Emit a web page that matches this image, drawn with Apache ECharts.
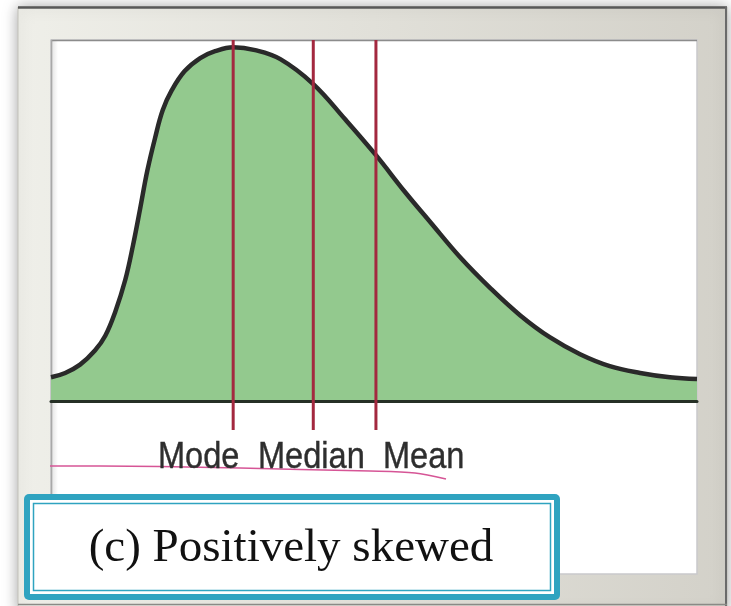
<!DOCTYPE html>
<html>
<head>
<meta charset="utf-8">
<script src="https://cdn.jsdelivr.net/npm/echarts@6/dist/echarts.min.js"></script>
<style>
  html, body { margin: 0; padding: 0; background: #ffffff; }
  #chart { width: 731px; height: 606px; }
</style>
</head>
<body>
<div id="chart"></div>
<script>
// Skewed density curve (x in arbitrary units 0–10, height in % of panel)
const curveX = [0, 0.22, 0.45, 0.68, 0.84, 0.99, 1.15, 1.27, 1.38, 1.49, 1.61, 1.73, 1.87, 2.07, 2.31, 2.54,
                2.82, 3.16, 3.55, 4.06, 4.55, 5.03, 5.48, 5.87, 6.33, 6.80, 7.26, 7.72, 8.19, 8.65, 9.12, 9.58, 10.0];
const curveY = [6.6, 7.8, 10.1, 14.0, 18.1, 24.5, 33.6, 43.2, 53.3, 63.7, 72.8, 80.6, 86.1, 91.4, 95.0, 96.9,
                98.0, 97.2, 94.7, 87.8, 78.1, 68.1, 57.9, 49.6, 39.9, 31.3, 23.8, 17.7, 13.0, 9.7, 7.8, 6.6, 6.1];

// Measures of central tendency
const measureNames = ['Mode', 'Median', 'Mean'];
const measureX = [2.82, 4.06, 5.03];

const captionText = '(c) Positively skewed';

const curveData = curveX.map((x, i) => [x, curveY[i]]);

const chart = echarts.init(document.getElementById('chart'), null, { renderer: 'canvas' });

const measureSeries = measureX.map((x, i) => ({
  name: measureNames[i],
  type: 'line',
  data: [[x, -8], [x, 100]],
  symbol: 'none',
  z: 5,
  lineStyle: { color: '#a3283f', width: 3 },
  silent: true,
  animation: false
}));

// Word positions for the measure labels along the baseline
const wordLeft = [158, 258, 383];

const labelTexts = measureNames.map((name, i) => ({
  type: 'text',
  x: wordLeft[i],
  y: 458,
  scaleX: 0.88,
  z: 20,
  style: {
    text: name,
    font: '37px "Liberation Sans", Arial, sans-serif',
    fill: '#2e2e2e',
    stroke: '#2e2e2e',
    lineWidth: 0.4,
    align: 'left',
    verticalAlign: 'middle'
  }
}));

chart.setOption({
  animation: false,
  grid: { left: 51, right: 34, top: 40, bottom: 176, containLabel: false },
  xAxis: {
    type: 'value', min: 0, max: 10, z: 4,
    axisLine: { onZero: true, lineStyle: { color: '#263026', width: 3 } },
    axisTick: { show: false }, axisLabel: { show: false }, splitLine: { show: false }
  },
  yAxis: {
    type: 'value', min: -8, max: 100,
    axisLine: { show: false }, axisTick: { show: false },
    axisLabel: { show: false }, splitLine: { show: false }
  },
  series: [
    {
      name: 'density',
      type: 'line',
      data: curveData,
      smooth: 0.4,
      symbol: 'none',
      z: 3,
      lineStyle: { color: '#2a2a2a', width: 4.5 },
      areaStyle: { color: '#93c98e', opacity: 1 },
      silent: true
    }
  ].concat(measureSeries),
  graphic: [
    // outer mat frame
    {
      type: 'rect', z: -5,
      shape: { x: 18, y: 7, width: 709, height: 605 },
      style: {
        fill: new echarts.graphic.LinearGradient(0, 0, 1, 0, [
          { offset: 0, color: '#efefe9' },
          { offset: 1, color: '#d3d1c9' }
        ]),
        stroke: '#c2c1b9', lineWidth: 1,
        shadowBlur: 14, shadowColor: 'rgba(0,0,0,0.35)'
      }
    },
    { type: 'line', z: -4, shape: { x1: 18, y1: 7.5, x2: 727, y2: 7.5 }, style: { stroke: '#585858', lineWidth: 2.5 } },
    { type: 'line', z: -4, shape: { x1: 726, y1: 7, x2: 726, y2: 606 }, style: { stroke: '#6a6a6a', lineWidth: 2 } },
    { type: 'line', z: -4, shape: { x1: 18, y1: 604.5, x2: 727, y2: 604.5 }, style: { stroke: '#8a8a86', lineWidth: 1.5 } },
    // inner white panel
    {
      type: 'rect', z: -3,
      shape: { x: 51, y: 40, width: 646, height: 534 },
      style: { fill: '#ffffff', stroke: '#c9c9cc', lineWidth: 1.5 }
    },
    { type: 'line', z: -2, shape: { x1: 51, y1: 40.5, x2: 697, y2: 40.5 }, style: { stroke: '#8c8c8c', lineWidth: 1.5 } },
    { type: 'line', z: -2, shape: { x1: 51.5, y1: 40, x2: 51.5, y2: 574 }, style: { stroke: '#a8a8a8', lineWidth: 1.5 } },
    {
      type: 'rect', z: -2,
      shape: { x: 52, y: 41, width: 6, height: 532 },
      style: {
        fill: new echarts.graphic.LinearGradient(0, 0, 1, 0, [
          { offset: 0, color: 'rgba(0,0,0,0.10)' },
          { offset: 1, color: 'rgba(0,0,0,0)' }
        ])
      }
    },
    // hand-drawn underline
    {
      type: 'polyline', z: 15,
      shape: {
        points: [[50, 466], [100, 466], [160, 466.5], [240, 468], [300, 469.5], [370, 471], [415, 473], [446, 479]],
        smooth: 0.3
      },
      style: { stroke: '#d65596', lineWidth: 1.6, fill: null }
    }
  ].concat(labelTexts).concat([
    // caption box
    {
      type: 'rect', z: 20,
      shape: { x: 24, y: 494, width: 536, height: 106, r: 5 },
      style: { fill: '#2fa3c0' }
    },
    {
      type: 'rect', z: 21,
      shape: { x: 30, y: 500, width: 524, height: 94 },
      style: { fill: '#ffffff' }
    },
    {
      type: 'rect', z: 22,
      shape: { x: 33.5, y: 503.5, width: 517, height: 87 },
      style: { fill: null, stroke: '#2fa3c0', lineWidth: 1.5 }
    },
    {
      type: 'text', z: 23,
      x: 291, y: 549,
      style: {
        text: captionText,
        font: '47px "Liberation Serif", "Times New Roman", serif',
        fill: '#111111',
        align: 'center',
        verticalAlign: 'middle'
      }
    }
  ])
});
</script>
</body>
</html>
